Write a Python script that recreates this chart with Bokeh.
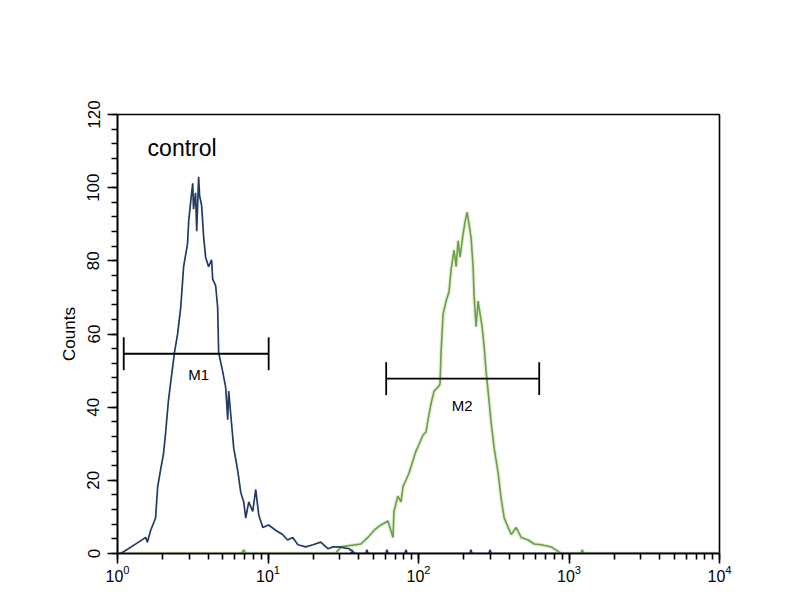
from bokeh.plotting import figure
from bokeh.models import Range1d, Label, LogTicker, SingleIntervalTicker
from bokeh.core.properties import value
from bokeh.embed import file_html
from bokeh.resources import INLINE

# ---- data ----
control_x = [1.0, 1.05, 1.18, 1.38, 1.54, 1.58, 1.66, 1.79, 1.85, 1.93, 2.02, 2.09, 2.18,
             2.32, 2.39, 2.51, 2.63, 2.75, 2.92, 2.97, 3.06, 3.16, 3.20, 3.30, 3.36,
             3.46, 3.51, 3.62, 3.74, 3.85, 4.03, 4.22, 4.29, 4.49, 4.63, 4.70, 5.00,
             5.23, 5.40, 5.48, 5.74, 5.92, 6.29, 6.59, 6.90, 7.11, 7.45, 7.92, 8.29,
             8.68, 9.23, 10.1, 11.3, 12.5, 13.5, 14.6, 15.8, 17.8, 19.9, 22.4, 25.0,
             27.0, 29.6, 34.5, 38.0, 35.5, 36.1, 36.8, 44.5, 45.4, 46.3, 60.5, 61.7,
             62.9, 81.0, 82.6, 84.2, 219.0, 223.0, 227.0, 293.0, 299.0, 305.0, 10000.0]
control_y = [0.0, 0.0, 1.3, 3.1, 4.4, 3.1, 6.3, 9.7, 18.3, 22.7, 27.2, 33.2, 41.8,
             50.7, 54.9, 60.1, 67.2, 78.4, 84.7, 90.7, 95.9, 101.2, 94.1, 98.6, 88.1,
             103.0, 97.8, 95.2, 86.3, 81.0, 78.4, 80.3, 75.0, 73.2, 67.2, 54.9, 49.7,
             45.5, 36.6, 44.4, 35.0, 28.8, 22.7, 16.7, 14.1, 9.7, 14.1, 11.5, 17.5,
             10.5, 7.1, 7.8, 6.3, 5.2, 3.7, 4.4, 2.4, 1.8, 2.4, 3.1, 1.3,
             1.8, 1.8, 1.3, 0.0, 0.0, 1.0, 0.0, 0.0, 1.0, 0.0, 0.0, 1.0,
             0.0, 0.0, 1.0, 0.0, 0.0, 1.0, 0.0, 0.0, 1.0, 0.0, 0.0]

sample_x = [1.0, 6.7, 6.9, 7.1, 28.0, 30.5, 41.4, 46.1, 50.6, 56.3, 62.7, 67.7, 68.7,
            73.0, 76.5, 78.9, 82.6, 86.5, 91.9, 96.2, 100.7, 107.2, 112.2, 115.7,
            121.2, 126.9, 134.9, 139.0, 141.2, 145.6, 152.5, 159.7, 164.6, 172.3,
            177.8, 183.2, 188.8, 197.8, 204.0, 210.4, 216.9, 223.6, 230.5, 234.0,
            241.3, 248.8, 252.6, 264.6, 272.8, 281.3, 290.0, 303.8, 318.3, 338.3,
            354.4, 371.2, 394.5, 413.2, 445.9, 481.2, 535.5, 587.0, 653.5, 761.6,
            888.0, 1200.0, 1225.0, 1250.0, 10000.0]
sample_y = [0.0, 0.0, 1.0, 0.0, 0.0, 1.8, 2.6, 4.4, 6.3, 7.8, 8.9, 4.4, 11.5,
            15.7, 14.1, 18.3, 20.1, 22.0, 25.4, 28.0, 29.8, 32.4, 33.2, 36.6,
            41.0, 44.4, 45.5, 46.3, 54.9, 65.4, 69.0, 71.6, 77.6, 82.9,
            78.4, 85.5, 81.0, 87.3, 90.7, 93.3, 89.9, 86.3, 78.4, 70.6,
            62.0, 69.0, 67.2, 62.0, 56.7, 49.7, 44.4, 35.8, 28.8, 22.0,
            14.9, 9.7, 7.1, 5.2, 7.1, 4.4, 3.7, 2.6, 2.4, 1.8,
            0.0, 0.0, 1.0, 0.0, 0.0]

# marker gates
gate_names = ["M1", "M2"]
gate_start = [1.1, 61.0]
gate_end = [10.1, 634.0]
gate_level = [54.6, 47.8]
gate_label_x = [3.46, 195.0]
gate_label_y = [48.9, 40.5]
gate_cap = 4.5

FONT = "Liberation Sans"

p = figure(width=784, height=584, x_axis_type="log",
           x_range=Range1d(1, 10000), y_range=Range1d(0, 120),
           output_backend="svg", toolbar_location=None,
           min_border_left=117, min_border_right=65, min_border_top=114,
           min_border_bottom=10)
p.background_fill_color = "white"
p.border_fill_color = "white"
p.outline_line_color = "black"
p.outline_line_width = 1.6
p.xgrid.visible = False
p.ygrid.visible = False

# curves
p.line(sample_x, sample_y, line_color="#a8d080", line_width=4, line_alpha=0.35)
p.line(sample_x, sample_y, line_color="#6e9e48", line_width=1.6)
p.line(control_x, control_y, line_color="#213b66", line_width=1.7)

# gates
for i in range(len(gate_names)):
    p.segment(x0=[gate_start[i]], y0=[gate_level[i]], x1=[gate_end[i]], y1=[gate_level[i]],
              line_color="black", line_width=1.8)
    p.segment(x0=[gate_start[i], gate_end[i]], y0=[gate_level[i] - gate_cap] * 2,
              x1=[gate_start[i], gate_end[i]], y1=[gate_level[i] + gate_cap] * 2,
              line_color="black", line_width=1.8)
    p.text(x=[gate_label_x[i]], y=[gate_label_y[i]], text=[gate_names[i]],
           text_font=value(FONT), text_font_size="15px", text_align="center",
           text_baseline="middle", text_color="black")

p.add_layout(Label(x=1.585, y=110.8, text="control", text_font=FONT,
                   text_font_size="23px", text_baseline="middle", text_color="black"))

# axes
xa = p.xaxis[0]
xa.ticker = LogTicker(num_minor_ticks=10)
xa.major_label_text_font = FONT
xa.major_label_text_font_size = "16px"
xa.major_label_standoff = 1
xa.major_tick_out = 10
xa.major_tick_in = 0
xa.minor_tick_out = 6
xa.minor_tick_in = 0
xa.axis_line_width = 1.6
xa.major_tick_line_width = 1.6
xa.minor_tick_line_width = 1.6
xa.major_label_text_color = "black"

ya = p.yaxis[0]
ya.ticker = SingleIntervalTicker(interval=20, num_minor_ticks=5)
ya.major_label_orientation = "vertical"
ya.major_label_text_font = FONT
ya.major_label_text_font_size = "17px"
ya.major_label_standoff = 8
ya.major_tick_out = 10
ya.major_tick_in = 0
ya.minor_tick_out = 6
ya.minor_tick_in = 0
ya.axis_line_width = 1.6
ya.major_tick_line_width = 1.6
ya.minor_tick_line_width = 1.6
ya.axis_label = "Counts"
ya.axis_label_text_font = FONT
ya.axis_label_text_font_size = "17px"
ya.axis_label_text_font_style = "normal"
ya.axis_label_text_color = "black"
ya.axis_label_standoff = 6
ya.major_label_text_color = "black"

open("out.html", "w").write(file_html(p, INLINE))
